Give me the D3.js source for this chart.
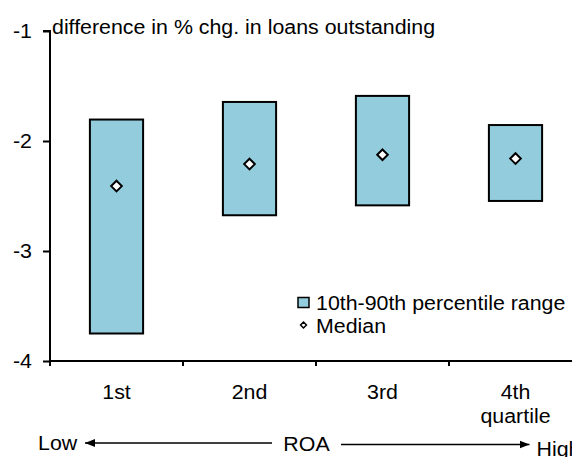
<!DOCTYPE html>
<html>
<head>
<meta charset="utf-8">
<script src="https://cdn.jsdelivr.net/npm/d3@7"></script>
<style>
  html, body { margin: 0; padding: 0; background: #fff; }
  svg { display: block; font-family: "Liberation Sans", Arial, sans-serif; }
</style>
</head>
<body>
<svg id="chart" width="572" height="457"></svg>
<script>
// ---- data ----
const categories = ["1st", "2nd", "3rd", "4th"];
const categoryLabels = [["1st"], ["2nd"], ["3rd"], ["4th", "quartile"]];
const p10 = [-3.75, -2.675, -2.585, -2.545];
const p90 = [-1.805, -1.645, -1.59, -1.855];
const median = [-2.41, -2.21, -2.125, -2.16];
const yTicks = [-1, -2, -3, -4];
const titleText = "difference in % chg. in loans outstanding";
const legendLabels = ["10th-90th percentile range", "Median"];
const axisCaption = ["Low", "ROA", "High"];

(function () {
// ---- layout ----
const svg = d3.select("#chart");
const plotLeft = 50, plotTop = 31, plotBottom = 361;
const step = 133;
const fontSize = 20;
const stretch = 1.068;
const fill = "#93CDDD";

function txt(px, py, anchor, str) {
  return svg.append("text")
    .attr("transform", `translate(${px},${py}) scale(${stretch},1)`)
    .attr("text-anchor", anchor)
    .attr("font-size", fontSize)
    .attr("fill", "#000")
    .text(str);
}

const x = d3.scaleBand()
  .domain(categories)
  .range([plotLeft, plotLeft + step * categories.length])
  .paddingInner(0.6)
  .paddingOuter(0.3);

const y = d3.scaleLinear().domain([-4, -1]).range([plotBottom, plotTop]);

// bars
const g = svg.append("g");
g.selectAll("rect.bar")
  .data(categories)
  .join("rect")
  .attr("class", "bar")
  .attr("x", d => x(d))
  .attr("width", x.bandwidth())
  .attr("y", (d, i) => y(p90[i]))
  .attr("height", (d, i) => y(p10[i]) - y(p90[i]))
  .attr("fill", fill)
  .attr("stroke", "#000")
  .attr("stroke-width", 2);

// medians
const diamond = d3.symbol().type(d3.symbolDiamond2);
g.selectAll("path.med")
  .data(categories)
  .join("path")
  .attr("class", "med")
  .attr("transform", (d, i) => `translate(${x(d) + x.bandwidth() / 2},${y(median[i])})`)
  .attr("d", diamond.size(72)())
  .attr("fill", "#fff")
  .attr("stroke", "#000")
  .attr("stroke-width", 2);

// y axis
const yAxis = d3.axisLeft(y)
  .tickValues(yTicks)
  .tickFormat(d => String(d))
  .tickSize(7)
  .tickPadding(11);
const yg = svg.append("g").attr("transform", `translate(${plotLeft},0)`).call(yAxis);
yg.select(".domain").attr("d", `M-7,${plotTop}H0V${plotBottom}`).attr("stroke-width", 2);
yg.selectAll(".tick line").attr("stroke-width", 2);
yg.selectAll(".tick text")
  .attr("x", null)
  .attr("transform", `translate(-18,0) scale(${stretch},1)`)
  .attr("font-size", fontSize)
  .attr("font-family", "Liberation Sans, Arial, sans-serif")
  .attr("fill", "#000");

// x axis line + ticks at category boundaries
svg.append("line")
  .attr("x1", plotLeft).attr("x2", plotLeft + step * categories.length)
  .attr("y1", plotBottom).attr("y2", plotBottom)
  .attr("stroke", "#000").attr("stroke-width", 2);
const boundaries = d3.range(categories.length + 1).map(i => plotLeft + i * step);
svg.selectAll("line.xt")
  .data(boundaries)
  .join("line")
  .attr("class", "xt")
  .attr("x1", d => d).attr("x2", d => d)
  .attr("y1", plotBottom).attr("y2", plotBottom + 5)
  .attr("stroke", "#000").attr("stroke-width", 2);

// x labels
categoryLabels.forEach((lines, i) => {
  const cx = x(categories[i]) + x.bandwidth() / 2;
  lines.forEach((t, j) => txt(cx, 398.5 + j * 24, "middle", t));
});

// title
txt(52, 34, "start", titleText);

// legend
svg.append("rect")
  .attr("x", 298).attr("y", 297.5).attr("width", 11).attr("height", 10)
  .attr("fill", fill).attr("stroke", "#000").attr("stroke-width", 1.5);
txt(316, 310, "start", legendLabels[0]);
svg.append("path")
  .attr("transform", "translate(303.5,325)")
  .attr("d", diamond.size(22)())
  .attr("fill", "#fff").attr("stroke", "#000").attr("stroke-width", 1.5);
txt(316, 333, "start", legendLabels[1]);

// bottom caption with arrows
svg.append("defs").append("marker")
  .attr("id", "ah")
  .attr("viewBox", "0 0 10 10")
  .attr("refX", 10).attr("refY", 5)
  .attr("markerWidth", 10).attr("markerHeight", 10)
  .attr("markerUnits", "userSpaceOnUse")
  .attr("orient", "auto")
  .append("path").attr("d", "M0,1L10,5L0,9Z").attr("fill", "#000");

txt(38, 450, "start", axisCaption[0]);
txt(306.5, 451, "middle", axisCaption[1]);
txt(536.5, 456, "start", axisCaption[2]);
svg.append("line")
  .attr("x1", 272).attr("y1", 443).attr("x2", 85).attr("y2", 443)
  .attr("stroke", "#000").attr("stroke-width", 1.5).attr("marker-end", "url(#ah)");
svg.append("line")
  .attr("x1", 341).attr("y1", 444.5).attr("x2", 529.5).attr("y2", 444.5)
  .attr("stroke", "#000").attr("stroke-width", 1.5).attr("marker-end", "url(#ah)");
})();
</script>
</body>
</html>
